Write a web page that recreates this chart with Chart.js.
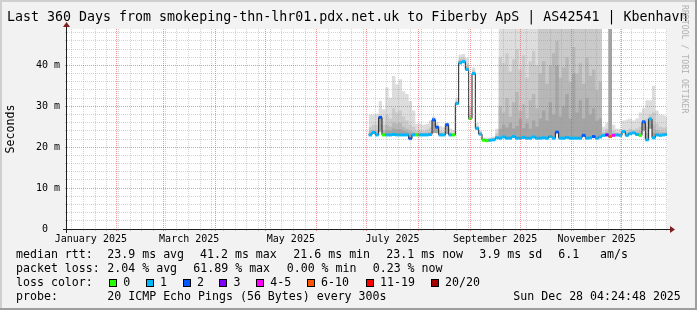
<!DOCTYPE html>
<html>
<head>
<meta charset="utf-8">
<title>smokeping</title>
<script src="https://cdn.jsdelivr.net/npm/chart.js@4.4.1/dist/chart.umd.min.js"></script>
<style>
html,body{margin:0;padding:0;background:#f2f2f2;}
#wrap{position:relative;width:697px;height:310px;background:#f2f2f2;overflow:hidden;font-family:'DejaVu Sans Mono',monospace;color:#000;}
#c{position:absolute;left:0;top:0;}
.tx{position:absolute;white-space:pre;font-size:11.6px;line-height:14px;}
.ttl{position:absolute;white-space:pre;font-size:13.3px;line-height:16px;}
.box{position:absolute;width:6px;height:6px;border:1px solid #000;}
.wm{position:absolute;white-space:pre;font-size:8.2px;line-height:10px;color:#b0b0b0;transform-origin:0 0;transform:rotate(90deg);}
.shade{position:absolute;}
</style>
</head>
<body>
<div id="wrap">
<canvas id="c" width="697" height="310"></canvas>
</div>
<script>
// ---------------- DATA ----------------
const titleText = 'Last 360 Days from smokeping-thn-lhr01.pdx.net.uk to Fiberby ApS | AS42541 | Kbenhavn';
const watermarkText = 'RRDTOOL / TOBI OETIKER';
const yAxisTitle = 'Seconds';
const windowStartMs = Date.UTC(2025, 0, 2, 4, 24, 48);   // end - 360 days
const windowDays = 360;
const monthLabelTexts = ['January 2025', 'March 2025', 'May 2025', 'July 2025', 'September 2025', 'November 2025'];
const monthLabelIndex = [0, 2, 4, 6, 8, 10];
const yTickValues = [0,2,4,6,8,10,12,14,16,18,20,22,24,26,28,30,32,34,36,38,40,42,44,46,48];
const yTickLabels = {0: '0  ', 10: '10 m', 20: '20 m', 30: '30 m', 40: '40 m'};
const yMax = 48.9;

// interval start (days since window start); each interval lasts 2 days
const days = [181,183,185,187,189,191,193,195,197,199,201,203,205,207,209,211,213,215,217,219,
  221,223,225,227,229,231,233,235,237,239,241,243,245,247,249,251,253,255,257,259,
  261,263,265,267,269,271,273,275,277,279,281,283,285,287,289,291,293,295,297,299,
  301,303,305,307,309,311,313,315,317,319,321,323,325,327,329,331,333,335,337,339,
  341,343,345,347,349,351,353,355,357,359];
const lastIntervalEnd = 361;

// median rtt (ms)
const median = [23.0,23.6,23.0,27.3,23.0,23.0,23.0,23.1,23.0,23.0,
  23.0,23.0,22.1,23.0,23.0,23.0,23.0,23.0,23.1,26.7,
  24.9,23.0,23.0,25.5,23.0,23.0,30.7,40.6,40.9,39.0,
  27.0,38.0,24.6,23.2,21.7,21.6,21.7,21.8,22.3,22.2,
  22.5,22.2,22.2,22.6,22.2,22.2,22.4,22.2,22.2,22.5,
  22.2,22.2,22.3,22.2,22.6,22.2,23.7,22.2,22.2,22.4,
  22.2,22.2,22.2,22.2,22.9,22.2,22.3,22.6,22.2,22.5,
  22.9,23.0,22.6,22.9,23.0,22.9,23.8,22.9,23.3,23.5,
  23.1,22.9,26.2,21.8,26.9,22.3,23.0,22.9,23.0,23.1];

// lost pings (of 20) per interval
const lossCount = [1,1,1,2,0,1,1,1,1,1,
  1,1,2,1,0,1,1,1,1,2,
  2,1,1,2,1,0,1,1,1,1,
  0,1,1,1,0,0,1,1,1,1,
  1,1,1,1,1,1,1,1,1,1,
  1,1,1,1,1,1,2,1,1,1,
  1,1,1,1,2,1,1,2,1,1,
  1,3,6,4,1,1,1,1,1,1,
  1,0,2,1,1,1,1,1,1,1];

// smoke: upper edge of each ping-pair band (outer -> inner), ms
const smoke1 = [28.0,28.0,28.2,31.3,29.3,34.6,32.1,37.4,35.4,36.6,
  33.7,33.0,31.3,29.0,25.7,25.7,25.5,25.7,26.5,27.5,
  26.2,25.2,24.9,26.0,24.6,24.2,32.0,42.6,42.8,41.8,
  30.0,39.5,26.0,24.0,22.4,22.3,22.4,22.6,24.5,55,
  55,55,55,55,55,55,55,55,55,55,
  55,55,55,55,55,55,55,55,55,55,
  55,55,55,55,55,55,55,55,55,55,
  25.0,26.0,55,25.5,24.5,24.5,26.5,26.8,27.0,26.5,
  27.0,28.5,29.5,31.5,31.5,35.0,29.0,28.0,27.8,27.5];
const smoke2 = [25.0,25.5,25.5,26.0,25.5,28.0,27.0,29.5,28.5,29.0,
  27.5,26.5,25.5,25.0,24.0,24.2,24.0,24.3,24.8,24.8,
  24.5,24.0,23.8,23.8,23.6,23.5,31.2,41.8,41.9,40.5,
  28.0,38.8,25.2,23.7,22.1,22.0,22.1,22.2,23.5,42.0,
  40.5,43.0,38.5,41.5,44.0,39.0,42.5,37.0,41.0,43.5,
  40.0,55,55,55,55,55,55,55,55,55,
  55,55,55,55,55,55,55,55,55,55,
  23.8,24.5,55,24.0,23.6,23.6,24.3,24.2,24.5,24.3,
  24.6,25.0,26.5,27.0,28.0,28.5,25.8,25.0,24.8,24.8];
const smoke3 = [24.0,24.2,24.0,24.5,24.2,25.5,25.0,26.0,25.8,26.0,
  25.0,24.5,24.0,23.8,23.5,23.6,23.5,23.6,23.8,23.9,
  23.8,23.5,23.4,23.4,23.3,23.2,30.9,41.3,41.4,39.8,
  27.5,38.4,24.9,23.5,21.9,21.8,21.9,22.0,22.8,30.0,
  28.5,32.0,27.5,31.0,33.5,29.0,30.5,27.0,31.5,33.0,
  29.5,38.0,41.0,35.5,40.0,43.0,46.0,37.0,39.5,42.0,
  36.0,44.5,38.0,40.5,35.5,42.0,37.5,39.0,34.0,36.0,
  23.3,23.8,55,23.5,23.3,23.3,23.8,23.6,23.8,23.7,
  23.8,24.0,25.0,25.0,26.0,25.5,24.2,23.8,23.7,23.7];
const smoke4 = [23.4,23.6,23.4,23.8,23.5,24.2,24.0,24.5,24.3,24.4,
  24.0,23.8,23.5,23.4,23.3,23.3,23.3,23.3,23.4,23.5,
  23.4,23.3,23.2,23.2,23.2,23.1,30.8,41.0,41.1,39.4,
  27.2,38.2,24.8,23.4,21.8,21.7,21.8,21.9,22.5,24.5,
  25.5,24.8,26.0,24.6,25.2,27.0,24.7,25.8,24.5,26.5,
  25.0,27.0,29.0,26.5,31.0,28.0,40.0,27.5,30.0,33.0,
  27.0,38.0,28.5,31.5,27.0,32.0,28.0,29.5,26.5,27.0,
  23.1,23.4,55,23.2,23.2,23.1,23.5,23.2,23.5,23.6,
  23.4,23.3,24.0,23.5,24.5,23.6,23.4,23.3,23.3,23.4];

// loss colour legend
const lossLevels = [0, 1, 2, 3, 4, 6, 11, 20];
const lossLabels = ['0', '1', '2', '3', '4-5', '6-10', '11-19', '20/20'];
const lossColors = ['#26ff00', '#00b8ff', '#0059ff', '#7e00ff', '#ff00ff', '#ff5500', '#ff0000', '#a10000'];

// statistics legend texts
const rttHead = 'median rtt:';
const rttStats = ['23.9 ms avg', '41.2 ms max', '21.6 ms min', '23.1 ms now', '3.9 ms sd', '6.1', 'am/s'];
const lossHead = 'packet loss:';
const lossStats = ['2.04 % avg', '61.89 % max', '0.00 % min', '0.23 % now'];
const colorHead = 'loss color:';
const probeHead = 'probe:';
const probeText = '20 ICMP Echo Pings (56 Bytes) every 300s';
const dateText = 'Sun Dec 28 04:24:48 2025';

// ---------------- LAYOUT ----------------
const FONT = "'DejaVu Sans Mono', monospace";
const rowTop = [247.3, 261.4, 275.3, 289.0];
const headX = 16;
const rttX = [107.3, 200, 293.3, 386.3, 479.3, 558.3, 600];
const lossX = [107.3, 193.3, 286.7, 372.7];
const boxX = [109, 145.7, 182.7, 219.3, 256, 306.7, 365.7, 430.7];
const boxTop = 278.5;
const probeX = 107.3, dateX = 513.3;

const wrap = document.getElementById('wrap');
function addText(cls, x, y, txt, extra) {
  const d = document.createElement('div');
  d.className = cls; d.style.left = x + 'px'; d.style.top = y + 'px'; d.textContent = txt;
  if (extra) Object.assign(d.style, extra);
  wrap.appendChild(d); return d;
}
addText('ttl', 7, 9.2, titleText);
addText('wm', 690, 5, watermarkText);
addText('tx', headX, rowTop[0], rttHead);
rttStats.forEach((t, i) => addText('tx', rttX[i], rowTop[0], t));
addText('tx', headX, rowTop[1], lossHead);
lossStats.forEach((t, i) => addText('tx', lossX[i], rowTop[1], t));
addText('tx', headX, rowTop[2], colorHead);
lossLabels.forEach((t, i) => {
  const b = document.createElement('div');
  b.className = 'box'; b.style.left = boxX[i] + 'px'; b.style.top = boxTop + 'px'; b.style.background = lossColors[i];
  wrap.appendChild(b);
  addText('tx', boxX[i] + 14.3, rowTop[2], t);
});
addText('tx', headX, rowTop[3], probeHead);
addText('tx', probeX, rowTop[3], probeText);
addText('tx', dateX, rowTop[3], dateText);
// 3D frame shading
[[0,0,697,2,'#cfcfcf'],[0,0,2,310,'#cfcfcf'],[0,308,697,2,'#9e9e9e'],[695,0,2,310,'#9e9e9e']].forEach(s => {
  const d = document.createElement('div'); d.className = 'shade';
  Object.assign(d.style, {left: s[0]+'px', top: s[1]+'px', width: s[2]+'px', height: s[3]+'px', background: s[4]});
  wrap.appendChild(d);
});

// ---------------- TICKS ----------------
const DAY = 86400000;
const dayOf = ms => (ms - windowStartMs) / DAY;
const xTicks = [];
for (let m = 0; m < 12; m++) {
  const v = dayOf(Date.UTC(2025, m, 1));
  if (v > 0 && v < windowDays) xTicks.push({value: v, kind: 'month'});
}
for (let w = Date.UTC(2025, 0, 5); dayOf(w) < windowDays; w += 7 * DAY) {
  const v = dayOf(w);
  if (!xTicks.some(t => Math.abs(t.value - v) < 0.01)) xTicks.push({value: v, kind: 'week'});
}
monthLabelIndex.forEach((m, k) => {
  const v = (dayOf(Date.UTC(2025, m, 1)) + dayOf(Date.UTC(2025, m + 1, 1))) / 2;
  xTicks.push({value: v, kind: 'label', txt: monthLabelTexts[k]});
});
xTicks.sort((a, b) => a.value - b.value);
const yTicks = yTickValues.map(v => ({value: v, kind: v % 10 === 0 ? 'month' : 'week', txt: yTickLabels[v] || ''}));

const MGRID = 'rgba(222,79,79,0.6)';
const GRID = 'rgba(150,150,150,0.42)';
const gridColor = c => (!c.tick ? GRID : c.tick.kind === 'month' ? MGRID : c.tick.kind === 'week' ? GRID : 'rgba(0,0,0,0)');

function lossColor(n) {
  let c = lossColors[0];
  for (let k = 0; k < lossLevels.length; k++) if (n >= lossLevels[k]) c = lossColors[k];
  return c;
}
function stepPoints(arr) {
  const p = days.map((d, i) => ({x: d, y: arr[i]}));
  p.push({x: lastIntervalEnd, y: arr[arr.length - 1]});
  return p;
}
const band = (arr, color) => ({
  data: stepPoints(arr), stepped: 'before', fill: 1, backgroundColor: color,
  borderColor: 'rgba(0,0,0,0)', borderWidth: 0, pointRadius: 0
});

const rrdPlugin = {
  id: 'rrdFrame',
  beforeDraw(chart) {
    const {ctx, chartArea: a} = chart;
    ctx.save(); ctx.fillStyle = '#ffffff';
    ctx.fillRect(a.left, a.top, a.right - a.left, a.bottom - a.top); ctx.restore();
  },
  afterDraw(chart) {
    const {ctx, chartArea: a} = chart;
    const x0 = Math.round(a.left) - 0.5, y0 = Math.round(a.bottom) + 0.5;
    ctx.save();
    ctx.strokeStyle = '#1f1f1f'; ctx.lineWidth = 1;
    ctx.beginPath();
    ctx.moveTo(a.left - 4, y0); ctx.lineTo(a.right + 4, y0);
    ctx.moveTo(x0, a.bottom + 4); ctx.lineTo(x0, a.top - 4);
    ctx.stroke();
    ctx.fillStyle = '#801f1f';
    ctx.beginPath();
    ctx.moveTo(a.right + 3, y0 - 3.5); ctx.lineTo(a.right + 3, y0 + 3.5); ctx.lineTo(a.right + 8, y0); ctx.closePath(); ctx.fill();
    ctx.beginPath();
    ctx.moveTo(x0 - 3.5, a.top - 2); ctx.lineTo(x0 + 3.5, a.top - 2); ctx.lineTo(x0, a.top - 7); ctx.closePath(); ctx.fill();
    ctx.restore();
  }
};

new Chart(document.getElementById('c'), {
  type: 'line',
  data: {
    datasets: [
      { // loss-coloured median marks
        data: days.map((d, i) => ({x: d + 1, y: median[i]})),
        showLine: false, pointStyle: 'line',
        pointRadius: c => { const s = c.chart.scales.x; return (s.getPixelForValue(2) - s.getPixelForValue(0)) / 2; },
        pointBorderWidth: 3,
        pointBorderColor: c => lossColor(lossCount[c.dataIndex]),
        pointBackgroundColor: c => lossColor(lossCount[c.dataIndex])
      },
      { // median line
        data: stepPoints(median), stepped: 'before', fill: false,
        borderColor: '#202020', borderWidth: 1, pointRadius: 0
      },
      band(smoke4, '#a4a4a4'),
      band(smoke3, '#b7b7b7'),
      band(smoke2, '#cacaca'),
      band(smoke1, '#dddddd')
    ]
  },
  options: {
    responsive: false, animation: false, events: [], devicePixelRatio: 1,
    layout: {padding: {left: 4, right: 30, top: 29, bottom: 61}},
    plugins: {legend: {display: false}, title: {display: false}, tooltip: {enabled: false}},
    scales: {
      x: {
        type: 'linear', min: 0, max: windowDays,
        afterFit: s => { s.height = 20; },
        afterBuildTicks: s => { s.ticks = xTicks.map(t => Object.assign({}, t)); },
        ticks: {autoSkip: false, maxRotation: 0, minRotation: 0, padding: 2, color: '#000',
          font: {family: FONT, size: 10}, callback: (v, i, t) => t[i].txt || ''},
        grid: {z: 1, color: gridColor, lineWidth: 1, drawTicks: true, tickLength: 2,
          tickColor: c => (c.tick && c.tick.kind !== 'label' ? gridColor(c) : 'rgba(0,0,0,0)')},
        border: {display: false, dash: [1, 1]}
      },
      y: {
        min: 0, max: yMax,
        afterFit: s => { s.width = 63; },
        afterBuildTicks: s => { s.ticks = yTicks.map(t => Object.assign({}, t)); },
        ticks: {autoSkip: false, padding: 5, color: '#000', font: {family: FONT, size: 10},
          callback: (v, i, t) => t[i].txt},
        grid: {z: 1, color: gridColor, lineWidth: 1, drawTicks: true, tickLength: 2, tickColor: gridColor},
        border: {display: false, dash: [1, 1]},
        title: {display: true, text: yAxisTitle, color: '#000', font: {family: FONT, size: 11.6}, padding: 0}
      }
    }
  },
  plugins: [rrdPlugin]
});
</script>
</body>
</html>
